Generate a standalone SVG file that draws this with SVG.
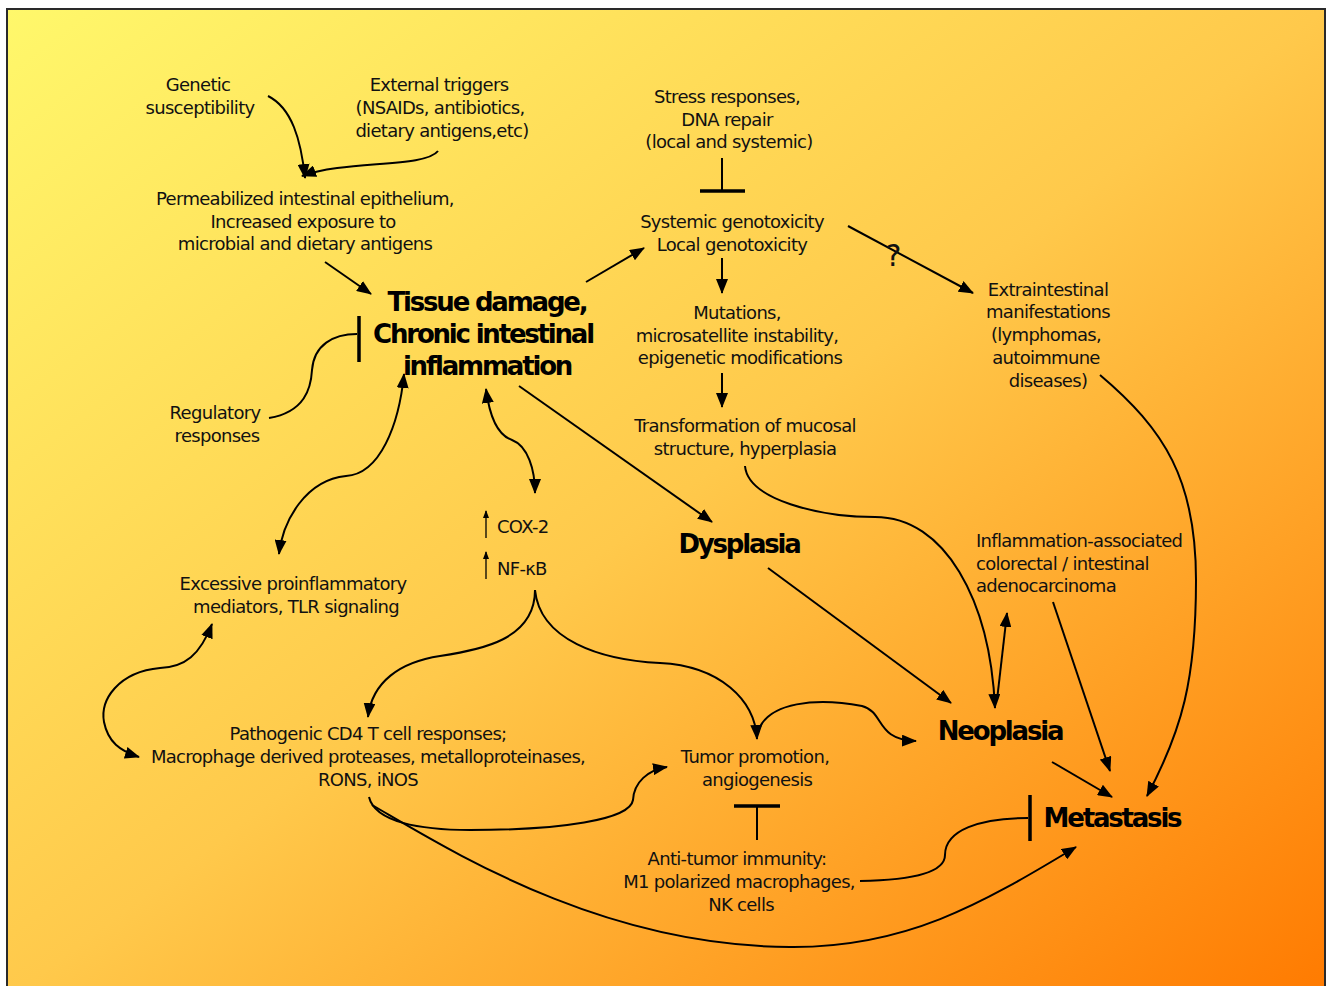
<svg xmlns="http://www.w3.org/2000/svg" width="1331" height="986" viewBox="0 0 1331 986">
<style>
.t{font-family:"DejaVu Sans","Liberation Sans",sans-serif;font-size:18px;letter-spacing:-0.7px;fill:#111;text-anchor:middle}
.l{text-anchor:start}
.b{font-family:"DejaVu Sans","Liberation Sans",sans-serif;font-size:26px;font-weight:bold;letter-spacing:-2.2px;fill:#000;text-anchor:middle}
.c{fill:none;stroke:#000;stroke-width:2}
.a{marker-end:url(#ah)}
.d{marker-start:url(#ah);marker-end:url(#ah)}
.bar{stroke:#000;stroke-width:3.5;fill:none}
.thin{stroke:#000;stroke-width:1.3;fill:none;marker-end:url(#sh)}
</style>
<defs>
<linearGradient id="bg" x1="0" y1="0" x2="1" y2="1">
<stop offset="0" stop-color="#fff86b"/>
<stop offset="0.5" stop-color="#ffc94b"/>
<stop offset="1" stop-color="#ff7a00"/>
</linearGradient>
<marker id="ah" markerUnits="userSpaceOnUse" markerWidth="16" markerHeight="12" refX="14" refY="6" orient="auto-start-reverse" viewBox="0 0 16 12">
<path d="M0,0 L15,6 L0,12 Z" fill="#000"/>
</marker>
<marker id="sh" markerUnits="userSpaceOnUse" markerWidth="8" markerHeight="6" refX="7" refY="3" orient="auto" viewBox="0 0 8 6">
<path d="M0,0 L8,3 L0,6 Z" fill="#000"/>
</marker>
</defs>
<rect x="7" y="9" width="1318" height="990" fill="url(#bg)" stroke="#2a2a2a" stroke-width="2"/>

<g id="connectors">
<path class="c a" d="M268,96 C292,108 301,140 305,178"/>
<path class="c a" d="M438,151 C425,168 345,160 302,176"/>
<path class="c a" d="M325,262 L371,294"/>
<path class="c" d="M269,418 C305,412 311,388 312,370 C314,345 333,334 357,334"/>
<line class="bar" x1="359" y1="316" x2="359" y2="362"/>
<path class="c d" d="M404,374 C399,425 380,474 346,476 C306,480 283,520 279,554"/>
<path class="c d" d="M486,389 C490,420 500,436 512,440 C528,446 535,470 535,493"/>
<path class="c a" d="M519,386 L712,522"/>
<path class="c a" d="M586,282 L644,248"/>
<line class="c" x1="722" y1="158" x2="722" y2="190"/>
<line class="bar" x1="700" y1="191" x2="745" y2="191"/>
<path class="c a" d="M722,258 L722,293"/>
<path class="c a" d="M722,373 L722,407"/>
<path class="c a" d="M848,226 L973,293"/>
<path class="c a" d="M745,466 C748,500 820,517 875,517 C945,517 990,600 995,708"/>
<path class="c a" d="M997,700 L1007,613"/>
<path class="c a" d="M768,568 L951,703"/>
<path class="c a" d="M1053,602 L1110,771"/>
<path class="c a" d="M1100,375 C1165,430 1196,480 1196,580 C1196,680 1182,730 1147,796"/>
<path class="c a" d="M1052,762 L1112,797"/>
<path class="thin" d="M486,538 L486,511"/>
<path class="thin" d="M486,579 L486,552"/>
<path class="c a" d="M535,590 C535,640 480,650 440,656 C400,662 372,682 368,717"/>
<path class="c a" d="M535,590 C540,640 600,660 660,663 C720,666 755,700 757,739"/>
<path class="c a" d="M757,735 C765,700 820,698 862,706 C885,712 875,740 916,741"/>
<path class="c d" d="M212,624 C200,655 185,667 160,668 C118,672 100,700 104,722 C108,742 120,751 139,757"/>
<path class="c a" d="M369,797 C375,822 420,830 470,830 C560,830 630,820 633,800 C634,782 648,770 667,767"/>
<path class="c a" d="M372,805 C450,850 600,946 790,947 C905,948 980,905 1076,847"/>
<line class="c" x1="757" y1="807" x2="757" y2="840"/>
<line class="bar" x1="734" y1="806" x2="780" y2="806"/>
<path class="c" d="M860,881 C920,880 945,870 945,855 C945,830 980,818 1028,818"/>
<line class="bar" x1="1030" y1="795" x2="1030" y2="841"/>
</g>

<g id="genetic"><text class="t" x="198" y="91">Genetic</text><text class="t" x="200" y="114">susceptibility</text></g>
<g id="external"><text class="t" x="439" y="91">External triggers</text><text class="t" x="440" y="114">(NSAIDs, antibiotics,</text><text class="t" x="442" y="137">dietary antigens,etc)</text></g>
<g id="stress"><text class="t" x="727" y="103">Stress responses,</text><text class="t" x="727" y="126">DNA repair</text><text class="t" x="729" y="148">(local and systemic)</text></g>
<g id="genotox"><text class="t" x="732" y="228">Systemic genotoxicity</text><text class="t" x="732" y="251">Local genotoxicity</text></g>
<g id="question"><text class="t" x="893" y="266" style="font-size:30px">?</text></g>
<g id="mutations"><text class="t" x="737" y="319">Mutations,</text><text class="t" x="737" y="342">microsatellite instability,</text><text class="t" x="740" y="364">epigenetic modifications</text></g>
<g id="transformation"><text class="t" x="745" y="432">Transformation of mucosal</text><text class="t" x="745" y="455">structure, hyperplasia</text></g>
<g id="extraintestinal"><text class="t" x="1048" y="296">Extraintestinal</text><text class="t" x="1048" y="318">manifestations</text><text class="t" x="1046" y="341">(lymphomas,</text><text class="t" x="1046" y="364">autoimmune</text><text class="t" x="1048" y="387">diseases)</text></g>
<g id="permeabilized"><text class="t" x="305" y="205">Permeabilized intestinal epithelium,</text><text class="t" x="303" y="228">Increased exposure to</text><text class="t" x="305" y="250">microbial and dietary antigens</text></g>
<g id="tissue"><text class="b" x="487" y="311">Tissue damage,</text><text class="b" x="483" y="343">Chronic intestinal</text><text class="b" x="487" y="375">inflammation</text></g>
<g id="regulatory"><text class="t" x="215" y="419">Regulatory</text><text class="t" x="217" y="442">responses</text></g>
<g id="cox"><text class="t l" x="497" y="533">COX-2</text><text class="t l" x="497" y="575">NF-κB</text></g>
<g id="dysplasia"><text class="b" x="739" y="553">Dysplasia</text></g>
<g id="excessive"><text class="t" x="293" y="590">Excessive proinflammatory</text><text class="t" x="296" y="613">mediators, TLR signaling</text></g>
<g id="pathogenic"><text class="t" x="368" y="740">Pathogenic CD4 T cell responses;</text><text class="t" x="368" y="763">Macrophage derived proteases, metalloproteinases,</text><text class="t" x="368" y="786">RONS, iNOS</text></g>
<g id="tumor"><text class="t" x="755" y="763">Tumor promotion,</text><text class="t" x="757" y="786">angiogenesis</text></g>
<g id="antitumor"><text class="t" x="737" y="865">Anti-tumor immunity:</text><text class="t" x="739" y="888">M1 polarized macrophages,</text><text class="t" x="741" y="911">NK cells</text></g>
<g id="neoplasia"><text class="b" x="1000" y="740">Neoplasia</text></g>
<g id="metastasis"><text class="b" x="1112" y="827">Metastasis</text></g>
<g id="adenocarcinoma"><text class="t l" x="976" y="547">Inflammation-associated</text><text class="t l" x="976" y="570">colorectal / intestinal</text><text class="t l" x="976" y="592">adenocarcinoma</text></g>
</svg>
